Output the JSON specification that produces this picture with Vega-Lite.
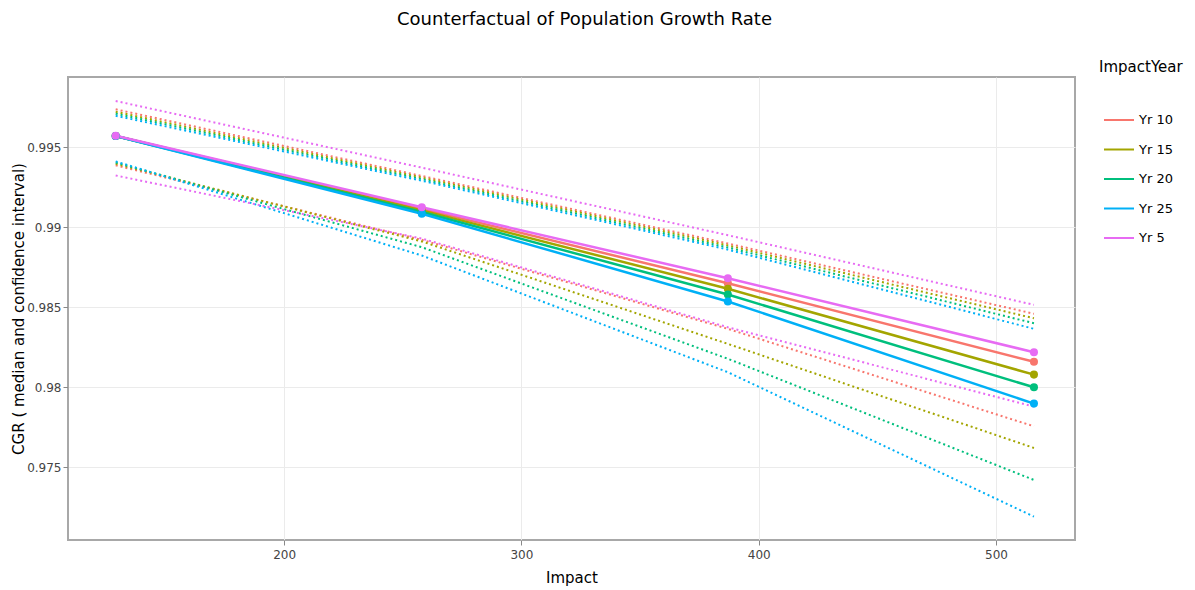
{
  "$schema": "https://vega.github.io/schema/vega-lite/v6.json",
  "width": 1007,
  "height": 463,
  "autosize": {"type": "none"},
  "padding": {"left": 68, "top": 77, "right": 120, "bottom": 50},
  "background": "white",
  "title": {
    "text": "Counterfactual of Population Growth Rate",
    "anchor": "middle",
    "frame": "group",
    "dx": 13,
    "offset": 31,
    "font": "DejaVu Sans",
    "fontSize": 18,
    "fontWeight": "normal",
    "color": "#000000"
  },
  "config": {
    "font": "DejaVu Sans",
    "view": {"stroke": "#a8a8a8", "strokeWidth": 2},
    "axis": {
      "gridColor": "#ebebeb",
      "gridWidth": 1,
      "domain": false,
      "tickColor": "#888888",
      "tickSize": 5,
      "labelColor": "#444444",
      "labelFontSize": 12,
      "labelFont": "DejaVu Sans",
      "titleFont": "DejaVu Sans",
      "titleFontSize": 15,
      "titleFontWeight": "normal",
      "titleColor": "#000000"
    },
    "legend": {
      "orient": "none",
      "legendX": 1031,
      "legendY": -17,
      "titleFont": "DejaVu Sans",
      "titleFontSize": 15,
      "titleFontWeight": "normal",
      "titleColor": "#000000",
      "titlePadding": 29,
      "labelFont": "DejaVu Sans",
      "labelFontSize": 13,
      "labelColor": "#000000",
      "symbolType": "stroke",
      "symbolSize": 900,
      "symbolStrokeWidth": 2,
      "symbolOffset": 4,
      "rowPadding": 6.5,
      "labelOffset": 4,
      "padding": 0
    }
  },
  "data": {
    "values": [
      {"Impact": 129, "ImpactYear": "Yr 10", "stat": "upper", "CGR": 0.99736},
      {"Impact": 258, "ImpactYear": "Yr 10", "stat": "upper", "CGR": 0.99320},
      {"Impact": 387, "ImpactYear": "Yr 10", "stat": "upper", "CGR": 0.98898},
      {"Impact": 516, "ImpactYear": "Yr 10", "stat": "upper", "CGR": 0.98459},
      {"Impact": 129, "ImpactYear": "Yr 10", "stat": "lower", "CGR": 0.99386},
      {"Impact": 258, "ImpactYear": "Yr 10", "stat": "lower", "CGR": 0.98921},
      {"Impact": 387, "ImpactYear": "Yr 10", "stat": "lower", "CGR": 0.98365},
      {"Impact": 516, "ImpactYear": "Yr 10", "stat": "lower", "CGR": 0.97756},
      {"Impact": 129, "ImpactYear": "Yr 10", "stat": "median", "CGR": 0.99569},
      {"Impact": 258, "ImpactYear": "Yr 10", "stat": "median", "CGR": 0.99115},
      {"Impact": 387, "ImpactYear": "Yr 10", "stat": "median", "CGR": 0.98650},
      {"Impact": 516, "ImpactYear": "Yr 10", "stat": "median", "CGR": 0.98159},

      {"Impact": 129, "ImpactYear": "Yr 15", "stat": "upper", "CGR": 0.99721},
      {"Impact": 258, "ImpactYear": "Yr 15", "stat": "upper", "CGR": 0.99310},
      {"Impact": 387, "ImpactYear": "Yr 15", "stat": "upper", "CGR": 0.98886},
      {"Impact": 516, "ImpactYear": "Yr 15", "stat": "upper", "CGR": 0.98431},
      {"Impact": 129, "ImpactYear": "Yr 15", "stat": "lower", "CGR": 0.99396},
      {"Impact": 258, "ImpactYear": "Yr 15", "stat": "lower", "CGR": 0.98911},
      {"Impact": 387, "ImpactYear": "Yr 15", "stat": "lower", "CGR": 0.98271},
      {"Impact": 516, "ImpactYear": "Yr 15", "stat": "lower", "CGR": 0.97621},
      {"Impact": 129, "ImpactYear": "Yr 15", "stat": "median", "CGR": 0.99569},
      {"Impact": 258, "ImpactYear": "Yr 15", "stat": "median", "CGR": 0.99105},
      {"Impact": 387, "ImpactYear": "Yr 15", "stat": "median", "CGR": 0.98615},
      {"Impact": 516, "ImpactYear": "Yr 15", "stat": "median", "CGR": 0.98079},

      {"Impact": 129, "ImpactYear": "Yr 20", "stat": "upper", "CGR": 0.99709},
      {"Impact": 258, "ImpactYear": "Yr 20", "stat": "upper", "CGR": 0.99300},
      {"Impact": 387, "ImpactYear": "Yr 20", "stat": "upper", "CGR": 0.98873},
      {"Impact": 516, "ImpactYear": "Yr 20", "stat": "upper", "CGR": 0.98400},
      {"Impact": 129, "ImpactYear": "Yr 20", "stat": "lower", "CGR": 0.99404},
      {"Impact": 258, "ImpactYear": "Yr 20", "stat": "lower", "CGR": 0.98875},
      {"Impact": 387, "ImpactYear": "Yr 20", "stat": "lower", "CGR": 0.98178},
      {"Impact": 516, "ImpactYear": "Yr 20", "stat": "lower", "CGR": 0.97421},
      {"Impact": 129, "ImpactYear": "Yr 20", "stat": "median", "CGR": 0.99569},
      {"Impact": 258, "ImpactYear": "Yr 20", "stat": "median", "CGR": 0.99095},
      {"Impact": 387, "ImpactYear": "Yr 20", "stat": "median", "CGR": 0.98579},
      {"Impact": 516, "ImpactYear": "Yr 20", "stat": "median", "CGR": 0.98000},

      {"Impact": 129, "ImpactYear": "Yr 25", "stat": "upper", "CGR": 0.99696},
      {"Impact": 258, "ImpactYear": "Yr 25", "stat": "upper", "CGR": 0.99290},
      {"Impact": 387, "ImpactYear": "Yr 25", "stat": "upper", "CGR": 0.98860},
      {"Impact": 516, "ImpactYear": "Yr 25", "stat": "upper", "CGR": 0.98365},
      {"Impact": 129, "ImpactYear": "Yr 25", "stat": "lower", "CGR": 0.99411},
      {"Impact": 258, "ImpactYear": "Yr 25", "stat": "lower", "CGR": 0.98823},
      {"Impact": 387, "ImpactYear": "Yr 25", "stat": "lower", "CGR": 0.98094},
      {"Impact": 516, "ImpactYear": "Yr 25", "stat": "lower", "CGR": 0.97192},
      {"Impact": 129, "ImpactYear": "Yr 25", "stat": "median", "CGR": 0.99569},
      {"Impact": 258, "ImpactYear": "Yr 25", "stat": "median", "CGR": 0.99084},
      {"Impact": 387, "ImpactYear": "Yr 25", "stat": "median", "CGR": 0.98536},
      {"Impact": 516, "ImpactYear": "Yr 25", "stat": "median", "CGR": 0.97898},

      {"Impact": 129, "ImpactYear": "Yr 5", "stat": "upper", "CGR": 0.99788},
      {"Impact": 258, "ImpactYear": "Yr 5", "stat": "upper", "CGR": 0.99372},
      {"Impact": 387, "ImpactYear": "Yr 5", "stat": "upper", "CGR": 0.98950},
      {"Impact": 516, "ImpactYear": "Yr 5", "stat": "upper", "CGR": 0.98515},
      {"Impact": 129, "ImpactYear": "Yr 5", "stat": "lower", "CGR": 0.99323},
      {"Impact": 258, "ImpactYear": "Yr 5", "stat": "lower", "CGR": 0.98929},
      {"Impact": 387, "ImpactYear": "Yr 5", "stat": "lower", "CGR": 0.98375},
      {"Impact": 516, "ImpactYear": "Yr 5", "stat": "lower", "CGR": 0.97879},
      {"Impact": 129, "ImpactYear": "Yr 5", "stat": "median", "CGR": 0.99571},
      {"Impact": 258, "ImpactYear": "Yr 5", "stat": "median", "CGR": 0.99125},
      {"Impact": 387, "ImpactYear": "Yr 5", "stat": "median", "CGR": 0.98681},
      {"Impact": 516, "ImpactYear": "Yr 5", "stat": "median", "CGR": 0.98219}
    ]
  },
  "encoding": {
    "x": {
      "field": "Impact",
      "type": "quantitative",
      "title": "Impact",
      "scale": {"domain": [108.9, 533.3], "nice": false, "zero": false},
      "axis": {"values": [200, 300, 400, 500], "labelPadding": 4, "titlePadding": 10}
    },
    "y": {
      "field": "CGR",
      "type": "quantitative",
      "title": "CGR ( median and confidence interval)",
      "scale": {"domain": [0.97046, 0.99938], "nice": false, "zero": false},
      "axis": {"values": [0.975, 0.98, 0.985, 0.99, 0.995], "format": "~g", "labelPadding": 2, "titlePadding": 0}
    },
    "color": {
      "field": "ImpactYear",
      "type": "nominal",
      "title": "ImpactYear",
      "scale": {
        "domain": ["Yr 10", "Yr 15", "Yr 20", "Yr 25", "Yr 5"],
        "range": ["#F8766D", "#A3A500", "#00BF7D", "#00B0F6", "#E76BF3"]
      }
    }
  },
  "layer": [
    {
      "transform": [{"filter": "datum.stat !== 'median'"}],
      "mark": {"type": "line", "strokeWidth": 2, "strokeDash": [2, 3], "clip": true},
      "encoding": {"detail": {"field": "stat", "type": "nominal"}}
    },
    {
      "transform": [{"filter": "datum.stat === 'median'"}],
      "mark": {"type": "line", "strokeWidth": 2.5, "clip": true},
      "encoding": {}
    },
    {
      "transform": [{"filter": "datum.stat === 'median'"}],
      "mark": {"type": "point", "filled": true, "opacity": 1, "size": 65},
      "encoding": {}
    }
  ]
}
